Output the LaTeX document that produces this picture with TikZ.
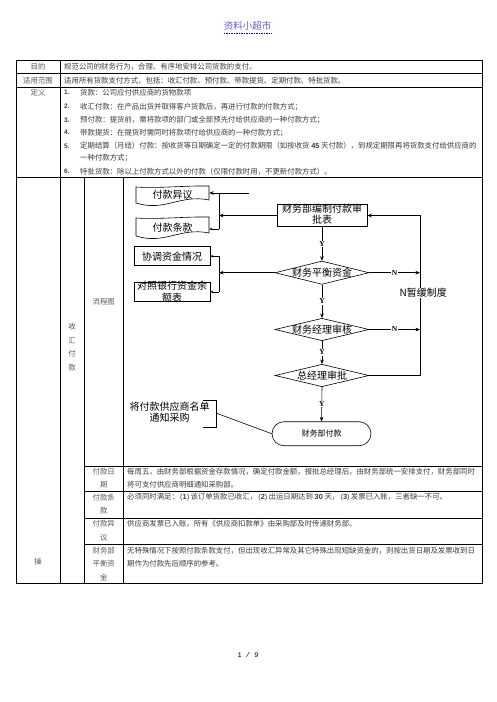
\documentclass[tikz,border=0pt]{standalone}
\usepackage{fontspec}
\setmainfont{Noto Sans CJK SC}
\newfontfamily\latf{Liberation Serif}
\newfontfamily\numf{Liberation Sans}
\newfontfamily\monf{Liberation Mono}
\usetikzlibrary{shapes.geometric,arrows.meta}
\definecolor{linkblue}{RGB}{96,96,214}
\definecolor{bodytxt}{RGB}{60,60,60}
\newcommand{\dg}[1]{{\numf\bfseries #1}}
\newcommand{\pn}[1]{{\numf\,(\textbf{#1})\,}}
\begin{document}
\begin{tikzpicture}[x=1pt,y=-1pt,
  grid/.style={line width=0.7pt},
  body/.style={font=\fontsize{7.4}{9}\selectfont, text=bodytxt, inner sep=0pt, anchor=west},
  lab/.style={font=\fontsize{7.4}{9}\selectfont, text=black!65, inner sep=0pt},
  inum/.style={font=\numf\bfseries\fontsize{6.5}{8}\selectfont, text=bodytxt, inner sep=0pt, anchor=west},
  fct/.style={font=\fontsize{10}{11.5}\selectfont, inner sep=0pt, align=center},
  fbox/.style={draw, line width=0.6pt, rectangle, inner sep=0pt},
  dia/.style={draw, diamond, line width=0.6pt, inner sep=0pt},
  yn/.style={font=\latf\bfseries\fontsize{7.5}{7.5}\selectfont, fill=white, inner sep=0.8pt},
  arr/.style={-{Stealth[length=4.5pt,width=3.6pt]}, line width=0.6pt},
  sarr/.style={-{Stealth[length=3pt,width=2.4pt]}, line width=0.5pt},
  ln/.style={line width=0.6pt}
]
\useasboundingbox[fill=white] (0,0) rectangle (496,702);

% header and footer
\node[font=\fontsize{9.5}{10}\selectfont, text=linkblue, inner sep=0pt] (hdr) at (247.5,26) {资料小超市};
\draw[dashed, dash pattern=on 1.5pt off 1pt, draw=blue!70!black, line width=0.5pt] (hdr.south west |- 0,32.8) -- (hdr.south east |- 0,32.8);
\node[font=\monf\fontsize{7}{8}\selectfont, inner sep=0pt] (ftr) at (248,655) {1 / 9};

% table grid
\draw[grid] (16,60.7) rectangle (482,583.3);
\draw[grid] (16,73.3) -- (482,73.3);
\draw[grid] (16,87.3) -- (482,87.3);
\draw[grid] (16,177.7) -- (482,177.7);
\draw[grid] (60,60.7) -- (60,583.3);
\draw[grid] (84.3,177.7) -- (84.3,583.3);
\draw[grid] (123.3,177.7) -- (123.3,583.3);
\draw[grid] (84.3,466) -- (482,466);
\draw[grid] (84.3,491.7) -- (482,491.7);
\draw[grid] (84.3,518) -- (482,518);
\draw[grid] (84.3,544) -- (482,544);

% row labels
\node[lab] (l1) at (38,67) {目的};
\node[lab] (l2) at (38,80.3) {适用范围};
\node[lab] (l3) at (38,92.7) {定义};
\node[body] (r1) at (64,67) {规范公司的财务行为，合理、有序地安排公司货款的支付。};
\node[body] (r2) at (64,80.3) {适用所有货款支付方式，包括：收汇付款、预付款、带款提货、定期付款、特批货款。};

% definitions
\node[inum] (n1n) at (64,92.7) {1.};
\node[body] (d1t) at (80,92.7) {货款：公司应付供应商的货物款项};
\node[inum] (n2n) at (64,106.7) {2.};
\node[body] (d2t) at (80,106.7) {收汇付款：在产品出货并取得客户货款后，再进行付款的付款方式；};
\node[inum] (n3n) at (64,120) {3.};
\node[body] (d3t) at (80,120) {预付款：提货前，需将款项的部门或全部预先付给供应商的一种付款方式；};
\node[inum] (n4n) at (64,132.7) {4.};
\node[body] (d4t) at (80,132.7) {带款提货：在提货时需同时将款项付给供应商的一种付款方式；};
\node[inum] (n5n) at (64,146) {5.};
\node[body] (d5t) at (80,146) {定期结算（月结）付款：按收货等日期确定一定的付款期限（如按收货 \dg{45} 天付款），到规定期限再将货款支付给供应商的};
\node[body] (d5u) at (80,157.7) {一种付款方式；};
\node[inum] (n6n) at (64,171.3) {6.};
\node[body] (d6t) at (80,171.3) {特批货款：除以上付款方式以外的付款（仅限付款时用，不更新付款方式）。};

% lower section labels
\node[lab] (sa) at (72,327) {收};
\node[lab] (sb) at (72,340.7) {汇};
\node[lab] (sc) at (72,354) {付};
\node[lab] (sd) at (72,367.3) {款};
\node[lab] (lc) at (103.7,302) {流程图};
\node[lab] (lo) at (38,561.7) {操};
\node[lab] (p1a) at (103.7,471.7) {付款日};
\node[lab] (p1b) at (103.7,484.7) {期};
\node[lab] (p2a) at (103.7,497.3) {付款条};
\node[lab] (p2b) at (103.7,510.7) {款};
\node[lab] (p3a) at (103.7,524) {付款异};
\node[lab] (p3b) at (103.7,537.3) {议};
\node[lab] (p4a) at (103.7,550.7) {财务部};
\node[lab] (p4b) at (103.7,564) {平衡资};
\node[lab] (p4c) at (103.7,577.3) {金};

\node[body] (q1a) at (127,471.7) {每周五，由财务部根据资金存款情况，确定付款金额，报批总经理后，由财务部统一安排支付，财务部同时};
\node[body] (q1b) at (127,484.7) {将可支付供应商明细通知采购部。};
\node[body] (q2a) at (127,497.3) {必须同时满足：\pn{1}该订单货款已收汇，\pn{2}出运日期达到 \dg{30} 天，\pn{3}发票已入账，三者缺一不可。};
\node[body] (q3a) at (127,524) {供应商发票已入账，所有《供应商扣款单》由采购部及时传递财务部。};
\node[body] (q4a) at (127,550.7) {无特殊情况下按照付款条款支付，但出现收汇异常及其它特殊出现短缺资金的，则按出货日期及发票收到日};
\node[body] (q4b) at (127,564) {期作为付款先后顺序的参考。};

% ---- flowchart ----
% left wavy boxes
\node[fct, minimum width=73pt, minimum height=16pt] (fk1) at (172.5,195) {付款异议};
\draw[ln] (136,203) -- (136,187) .. controls (160,188.5) and (185,185.5) .. (209,186) -- (209,200) .. controls (180,194) and (165,212) .. (136,203) -- cycle;
\node[fct, minimum width=73pt, minimum height=16pt] (fk2) at (172.5,227.5) {付款条款};
\draw[ln] (136,236) -- (136,218) .. controls (160,219.5) and (185,216.5) .. (209,217) -- (209,233) .. controls (180,227) and (165,245) .. (136,236) -- cycle;

\node[fbox, minimum width=76pt, minimum height=19pt] (hx) at (172,256.2) {};
\node[fct] (hxt) at (hx) {协调资金情况};
\node[fbox, minimum width=76pt, minimum height=19.7pt] (dz) at (172,291.8) {};
\node[fct] (dzt) at (dz) {对照银行资金余\\额表};

% main column
\node[fbox, minimum width=90pt, minimum height=22.4pt] (n1) at (322,215.5) {};
\node[fct] (n1t) at (322,214.3) {财务部编制付款审\\批表};
\node[dia, minimum width=94pt, minimum height=23.3pt] (d1) at (322,272.7) {};
\node[fct] (d1t) at (d1) {财务平衡资金};
\node[dia, minimum width=94pt, minimum height=22.4pt] (d2) at (322,329.5) {};
\node[fct] (d2t) at (d2) {财务经理审核};
\node[dia, minimum width=94pt, minimum height=22.4pt] (d3) at (322,375.5) {};
\node[fct] (d3t) at (d3) {总经理审批};
\node[draw, line width=0.6pt, rounded corners=12pt, minimum width=99pt, minimum height=24pt, inner sep=0pt, font=\fontsize{8}{9}\selectfont] (fk) at (321.5,433.7) {财务部付款};

\draw[arr] (n1.south) -- (d1.north) node[midway, yn] {Y};
\draw[arr] (d1.south) -- (d2.north) node[midway, yn] {Y};
\draw[arr] (d2.south) -- (d3.north) node[midway, yn] {Y};
\draw[arr] (d3.south) -- (fk.north) node[midway, yn] {Y};

% right loop
\coordinate (lt) at (420,215.5);
\coordinate (lb) at (420,375.5);
\draw[arr] (d3.east) -- (lb) -- (lt) -- (n1.east);
\draw[arr] (d1.east) -- (d1.east -| lt) node[midway, yn] {N};
\draw[arr] (d2.east) -- (d2.east -| lt) node[midway, yn] {N};
\node[fct, anchor=west, fill=white, inner sep=0.5pt] (nz) at (399,293) {N暂缓制度};

% left brackets
\coordinate (c1) at (249,193);
\coordinate (b1t) at (219,193);
\coordinate (b1b) at (219,229);
\draw[arr] (c1) -- (c1 -| fk1.east);
\draw[ln] (b1t) -- (b1b);
\draw[sarr] (b1b) -- (b1b -| fk2.east);
\draw[arr] (n1.west) -- (n1.west -| b1t);

\coordinate (b2t) at (219,256.2);
\coordinate (b2b) at (219,291.8);
\draw[ln] (b2t) -- (b2b);
\draw[sarr] (b2t) -- (hx.east);
\draw[sarr] (b2b) -- (dz.east);
\draw[arr] (d1.west) -- (d1.west -| b2t);

% annotation
\node[fct] (ann) at (169.5,412) {将付款供应商名单\\通知采购};
\coordinate (a1) at (203,400);
\coordinate (a2) at (216.7,400);
\coordinate (a3) at (216.7,427);
\coordinate (a4) at (203,427);
\coordinate (am) at (216.7,413.3);
\draw[ln] (a1) -- (a2) -- (a3) -- (a4);
\draw[ln] (am) -- (fk.west);
\end{tikzpicture}
\end{document}
